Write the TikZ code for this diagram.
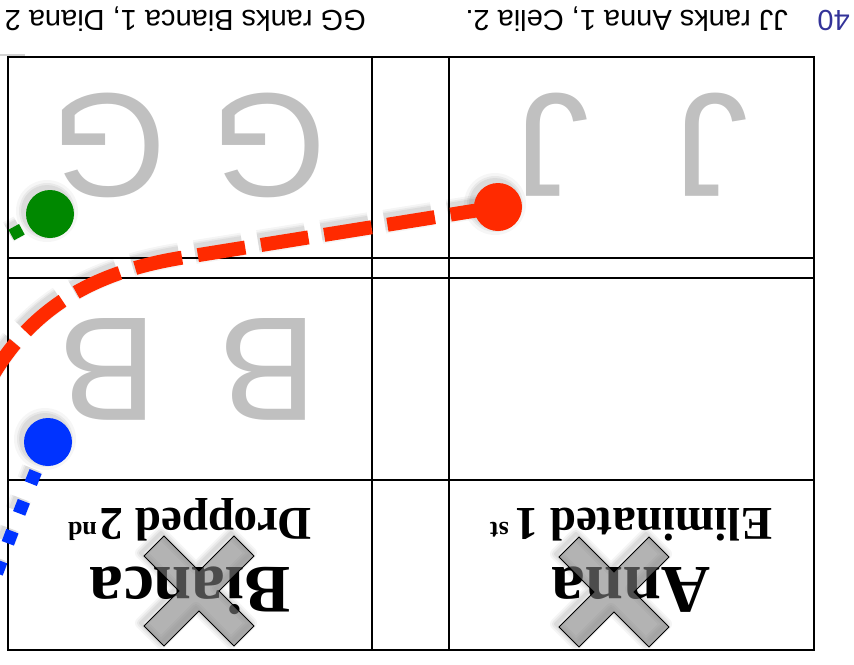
\documentclass[tikz,border=0pt]{standalone}
\usepackage{fontspec}
\setmainfont{Liberation Serif}
\newfontfamily\arialf{Liberation Sans}
\definecolor{rd}{RGB}{255,42,0}
\definecolor{gn}{RGB}{0,136,0}
\definecolor{bl}{RGB}{0,51,255}
\definecolor{lg}{RGB}{192,192,192}
\definecolor{num}{RGB}{51,51,153}
\definecolor{xg}{RGB}{128,128,128}
\def\xpoly{(0,20) -- (35,55) -- (55,35) -- (20,0) -- (55,-35) -- (35,-55) -- (0,-20) -- (-35,-55) -- (-55,-35) -- (-20,0) -- (-55,35) -- (-35,55) -- cycle}
\tikzset{
  tbl/.style={line width=2.6pt, draw=black},
  bigletter/.style={rotate=180, inner sep=0pt, anchor=base, text=lg, font=\arialf\fontsize{148}{150}\selectfont},
  toptext/.style={rotate=180, inner sep=0pt, anchor=base west, font=\arialf\fontsize{29}{31}\selectfont},
  namebox/.style={rotate=180, inner sep=0pt, anchor=base, font=\bfseries\fontsize{68}{72}\selectfont},
  subbox/.style={rotate=180, inner sep=0pt, anchor=base, font=\bfseries\fontsize{47}{50}\selectfont},
  dot/.style={circle, inner sep=0pt, minimum size=48pt},
  shd/.style={transform canvas={shift={(-3,-3)}}},
  pics/xmark/.style={code={
    \begin{scope}[shift={(-3,-3)}]
      \foreach \w/\o in {12/0.04,8/0.05,4/0.06} \draw[black, opacity=\o, line width=\w pt, line join=round] \xpoly;
    \end{scope}
    \filldraw[fill=xg, fill opacity=0.6, draw=black, line width=0.9pt] \xpoly;
  }}
}
\newcommand\supr[2]{\hspace{#1}\raisebox{14pt}{\fontsize{26}{26}\selectfont #2}}
\begin{document}
\begin{tikzpicture}[x=1pt,y=-1pt]
\useasboundingbox (0,0) rectangle (854,664);
% table
\draw[gray!35, line width=2pt] (0,55) -- (25,55);
\draw[tbl] (8,57) rectangle (814,650);
\draw[tbl] (8,258) -- (814,258);
\draw[tbl] (8,278) -- (814,278);
\draw[tbl] (8,480) -- (814,480);
\draw[tbl] (372,57) -- (372,650);
\draw[tbl] (449,57) -- (449,650);
% header texts
\node[toptext, text=num] (t0) at (850,10.5) {40};
\node[toptext] (t1) at (788,10.5) {JJ ranks Anna 1, Celia 2.};
\node[toptext] (t2) at (366,10.5) {GG ranks Bianca 1, Diana 2};
% big letters
\node[bigletter] (j1) at (711,94) {J};
\node[bigletter] (j2) at (552,94) {J};
\node[bigletter] (g1) at (269,94) {G};
\node[bigletter] (g2) at (109,94) {G};
\node[bigletter] (b1) at (268,318) {B};
\node[bigletter] (b2) at (108,318) {B};
% names
\node[namebox] (anna) at (631,567) {Anna};
\node[subbox] (elim) at (631,508) {Eliminated 1\supr{6pt}{st}};
\node[namebox] (bianca) at (190,567) {Bianca};
\node[subbox] (drop) at (190,508) {Dropped 2\supr{3pt}{nd}};
% crosses
\pic at (614,592) {xmark};
\pic at (199,591) {xmark};
% coordinates
\coordinate (rc) at (498,207);
\coordinate (r1) at (180,258);
\coordinate (rend) at (-10,380);
\coordinate (gc) at (50,214);
\coordinate (gend) at (-20,252);
\coordinate (bc) at (48,442);
\coordinate (bend) at (-4,575);
% shadows of lines
\begin{scope}[shd]
  \foreach \w/\o in {24/0.04,20/0.05,17/0.06}{
    \draw[black, opacity=\o, line width=\w pt, dash pattern=on 48pt off 16pt] (rc) -- (r1) .. controls (90,273) and (30,310) .. (rend);
    \draw[black, opacity=\o, line width=\w pt-2pt, dash pattern=on 12pt off 20pt] (gc) -- (gend);
    \draw[black, opacity=\o, line width=\w pt-2pt, dash pattern=on 13pt off 19pt] (bc) .. controls (35,472) and (22,505) .. (bend);
  }
  \foreach \r/\o in {31/0.035,28/0.05,26/0.06}{
    \fill[black, opacity=\o] (rc) circle[radius=\r pt];
    \fill[black, opacity=\o] (gc) circle[radius=\r pt];
    \fill[black, opacity=\o] (bc) circle[radius=\r pt];
  }
\end{scope}
% lines
\draw[rd, line width=14pt, dash pattern=on 48pt off 16pt] (rc) -- (r1) .. controls (90,273) and (30,310) .. (rend);
\draw[gn, line width=12pt, dash pattern=on 12pt off 20pt] (gc) -- (gend);
\draw[bl, line width=13pt, dash pattern=on 13pt off 19pt] (bc) .. controls (35,472) and (22,505) .. (bend);
% dots
\node[dot, fill=rd] (rdot) at (rc) {};
\node[dot, fill=gn] (gdot) at (gc) {};
\node[dot, fill=bl] (bdot) at (bc) {};
\end{tikzpicture}
\end{document}
